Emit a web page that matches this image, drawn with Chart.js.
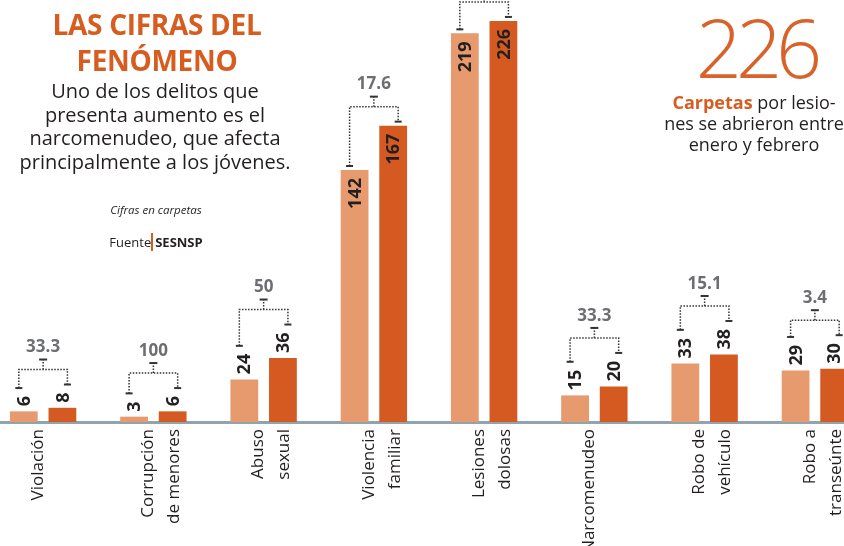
<!DOCTYPE html>
<html>
<head>
<meta charset="utf-8">
<script src="https://cdn.jsdelivr.net/npm/chart.js@4/dist/chart.umd.min.js"></script>
<style>
  html, body { margin: 0; padding: 0; width: 844px; height: 546px; overflow: hidden; background: #fff; font-family: "Open Sans", sans-serif; color: #231f20; }
  #wrap { position: absolute; left: -12px; top: 0; width: 882px; height: 546px; }
  .abs { position: absolute; white-space: nowrap; text-align: center; }
  #titulo { left: 0; width: 314px; top: 6px; font-size: 28px; line-height: 36px; font-weight: 700; color: #d65c1f; letter-spacing: -0.3px; }
  #sub { left: 0; width: 310px; top: 79px; font-size: 20px; line-height: 23.5px; }
  #nota { left: 0; width: 312px; top: 202px; font-size: 11.5px; line-height: 16px; font-style: italic; }
  #fuente { left: 0; width: 312px; top: 234px; font-size: 13px; line-height: 16px; }
  #fuente b { border-left: 2px solid #d65c1f; padding-left: 2px; }
  #grande { left: 656px; width: 200px; top: 6px; font-size: 81px; line-height: 81px; font-weight: 300; color: #d9622a; letter-spacing: -6px; }
  #lateral { left: 654px; width: 200px; top: 92px; font-size: 18px; line-height: 21px; }
  #lateral b { color: #d65c1f; }
</style>
</head>
<body>
<div id="wrap"><canvas id="chart"></canvas></div>
<div class="abs" id="titulo">LAS CIFRAS DEL<br>FENÓMENO</div>
<div class="abs" id="sub">Uno de los delitos que<br>presenta aumento es el<br>narcomenudeo, que afecta<br>principalmente a los jóvenes.</div>
<div class="abs" id="nota">Cifras en carpetas</div>
<div class="abs" id="fuente">Fuente<b>SESNSP</b></div>
<div class="abs" id="grande">226</div>
<div class="abs" id="lateral"><b>Carpetas</b> por lesio-<br>nes se abrieron entre<br>enero y febrero</div>
<script>
const delitos = [
  'Violación',
  ['Corrupción', 'de menores'],
  ['Abuso', 'sexual'],
  ['Violencia', 'familiar'],
  ['Lesiones', 'dolosas'],
  'Narcomenudeo',
  ['Robo de', 'vehículo'],
  ['Robo a', 'transeúnte']
];
const anterior = [6, 3, 24, 142, 219, 15, 33, 29];
const actual = [8, 6, 36, 167, 226, 20, 38, 30];
const aumento = ['33.3', '100', '50', '17.6', '3.2', '33.3', '15.1', '3.4'];

const colorClaro = '#e69a6e';
const colorOscuro = '#d45a21';

// etiquetas de valor y corchetes con el porcentaje de aumento
const corchetes = {
  id: 'corchetes',
  afterDatasetsDraw(chart) {
    const ctx = chart.ctx;
    const m0 = chart.getDatasetMeta(0);
    const m1 = chart.getDatasetMeta(1);
    ctx.save();
    delitos.forEach((d, i) => {
      const bars = [m0.data[i], m1.data[i]];
      const vals = [anterior[i], actual[i]];
      ctx.font = 'bold 18px "Open Sans"';
      const caps = bars.map((b, k) => {
        const txt = String(vals[k]);
        const w = ctx.measureText(txt).width;
        const dentro = vals[k] > 100;
        ctx.save();
        ctx.translate(b.x, b.y);
        ctx.rotate(-Math.PI / 2);
        ctx.fillStyle = '#231f20';
        ctx.textBaseline = 'middle';
        ctx.textAlign = dentro ? 'right' : 'left';
        ctx.fillText(txt, dentro ? -8 : 5, 1);
        ctx.restore();
        return dentro ? b.y - 4 : b.y - 5 - w - 8;
      });
      const xl = bars[0].x - 5;
      const xr = bars[1].x + 5;
      const xc = (bars[0].x + bars[1].x) / 2;
      const hy = Math.min(caps[0], caps[1]) - 15;

      ctx.strokeStyle = '#333';
      ctx.lineWidth = 1.5;
      ctx.setLineDash([1.5, 1.5]);
      ctx.beginPath();
      ctx.moveTo(xl, caps[0]);
      ctx.lineTo(xl, hy);
      ctx.lineTo(xr, hy);
      ctx.lineTo(xr, caps[1]);
      ctx.moveTo(xc, hy);
      ctx.lineTo(xc, hy - 10);
      ctx.stroke();
      ctx.setLineDash([]);

      ctx.fillStyle = '#333';
      ctx.fillRect(xl - 3.5, caps[0] - 1, 7, 2);
      ctx.fillRect(xr - 3.5, caps[1] - 1, 7, 2);
      ctx.fillRect(xc - 4, hy - 11, 8, 2);

      ctx.font = 'bold 17px "Open Sans"';
      ctx.fillStyle = '#6d6e71';
      ctx.textAlign = 'center';
      ctx.textBaseline = 'middle';
      ctx.fillText(aumento[i], xc, hy - 22);
    });
    ctx.restore();
  }
};

new Chart(document.getElementById('chart'), {
  type: 'bar',
  data: {
    labels: delitos,
    datasets: [{
      label: 'Año anterior',
      data: anterior,
      backgroundColor: colorClaro,
      categoryPercentage: 0.7,
      barPercentage: 0.72
    }, {
      label: 'Año actual',
      data: actual,
      backgroundColor: colorOscuro,
      categoryPercentage: 0.7,
      barPercentage: 0.72
    }]
  },
  options: {
    responsive: true,
    maintainAspectRatio: false,
    animation: false,
    layout: { padding: 0 },
    plugins: {
      legend: { display: false },
      tooltip: { enabled: false }
    },
    scales: {
      x: {
        grid: { display: false, drawTicks: false },
        border: { display: true, color: '#8fa4af', width: 3 },
        ticks: {
          minRotation: 90,
          maxRotation: 90,
          padding: 7,
          labelOffset: -5,
          color: '#231f20',
          font: { family: '"Open Sans"', size: 17, lineHeight: 1.53 }
        },
        afterFit: (scale) => {
          scale.height = 124;
          scale.paddingLeft = 0;
          scale.paddingRight = 0;
        }
      },
      y: {
        display: false,
        min: 0,
        max: 237.8
      }
    }
  },
  plugins: [corchetes]
});
</script>
</body>
</html>
